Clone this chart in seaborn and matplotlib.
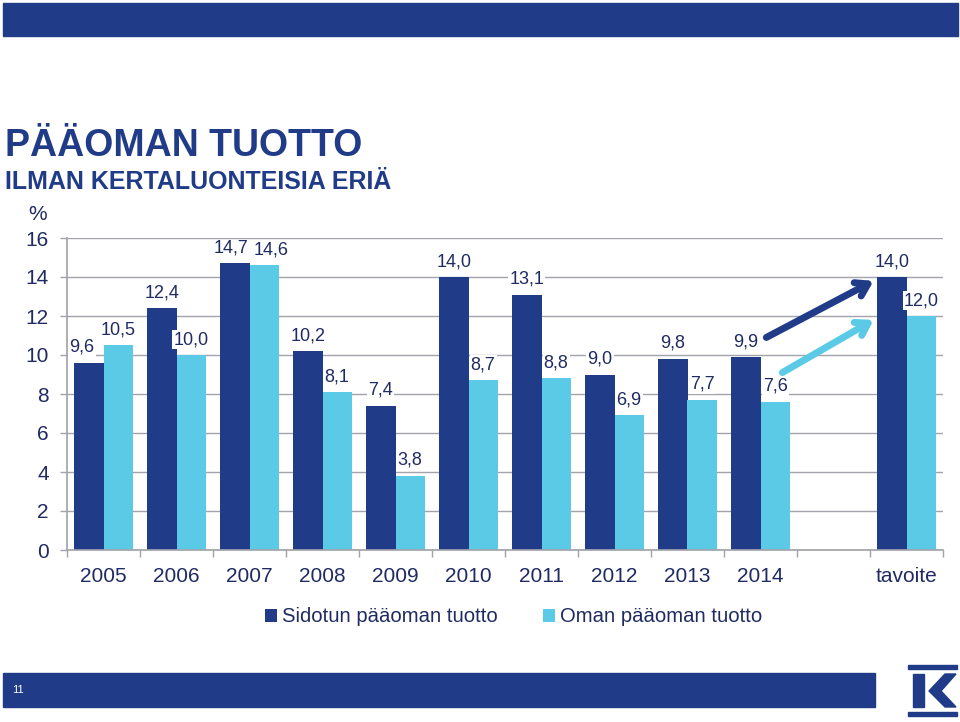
import matplotlib
matplotlib.use("Agg")
import matplotlib.pyplot as plt
import seaborn as sns
import pandas as pd
from matplotlib.patches import Rectangle, Polygon, Patch

years = ["2005", "2006", "2007", "2008", "2009", "2010", "2011", "2012", "2013", "2014", "tavoite"]
order = ["2005", "2006", "2007", "2008", "2009", "2010", "2011", "2012", "2013", "2014", " ", "tavoite"]
sidotun = [9.6, 12.4, 14.7, 10.2, 7.4, 14.0, 13.1, 9.0, 9.8, 9.9, 14.0]
oman = [10.5, 10.0, 14.6, 8.1, 3.8, 8.7, 8.8, 6.9, 7.7, 7.6, 12.0]
series_names = ["Sidotun pääoman tuotto", "Oman pääoman tuotto"]
yticks = [0, 2, 4, 6, 8, 10, 12, 14, 16]

DARK = "#203B88"
LIGHT = "#5BCAE6"
TEXT = "#1F2B62"
GRID = "#A3A3AC"

sns.set_theme(style="white")
plt.rcParams['font.family'] = ['Liberation Sans', 'DejaVu Sans']

df = pd.DataFrame({
    "year": years * 2,
    "value": sidotun + oman,
    "series": [series_names[0]] * len(years) + [series_names[1]] * len(years),
})

fig = plt.figure(figsize=(9.6, 7.22), dpi=100)
ax = fig.add_axes([67 / 960, 1 - 550 / 722, (943 - 67) / 960, (550 - 238) / 722])

sns.barplot(data=df, x="year", y="value", hue="series", order=order,
            hue_order=series_names, palette=[DARK, LIGHT], width=0.8,
            saturation=1, dodge=True, legend=False, ax=ax, edgecolor="none")

ax.set_ylim(0, 16)
ax.set_xlim(-0.5, len(order) - 0.5)
ax.set_yticks(yticks)
ax.set_yticklabels([str(t) for t in yticks], fontsize=15, color=TEXT)
ax.yaxis.grid(True, color=GRID, lw=1)
ax.set_axisbelow(True)
ax.set_xlabel("")
ax.set_ylabel("")
ax.tick_params(axis="y", length=5, color=GRID, width=1, pad=8, left=True)
ax.tick_params(axis="x", which="major", length=0, pad=12, labelsize=15, labelcolor=TEXT)
ax.set_xticks(range(len(order)))
ax.set_xticklabels(order)
ax.set_xticks([i - 0.5 for i in range(len(order) + 1)], minor=True)
ax.tick_params(axis="x", which="minor", length=5, color=GRID, width=1, bottom=True)
for s in ["top", "right"]:
    ax.spines[s].set_visible(False)
ax.spines["left"].set_color(GRID)
ax.spines["bottom"].set_color(GRID)

# data labels
xshift = {(0, 0): -5, (0, 2): -3, (1, 2): 5, (1, 0): 0}
for si, container in enumerate(ax.containers):
    labels = [f"{b.get_height():.1f}".replace(".", ",") if b.get_height() == b.get_height() and b.get_height() > 0 else "" for b in container]
    anns = ax.bar_label(container, labels=labels, padding=5, fontsize=13, color=TEXT,
                        bbox=dict(facecolor="white", edgecolor="none", pad=0.8))
    for ci, ann in enumerate(anns):
        if (si, ci) in xshift:
            dx, dy = ann.xyann
            ann.xyann = (dx + xshift[(si, ci)], dy)
            if ci == 2:
                ann.set_bbox(None)

# arrows
ax.annotate("", xy=(10.55, 13.8), xytext=(9.08, 10.9),
            arrowprops=dict(arrowstyle="->,head_length=0.7,head_width=0.45", lw=5, color=DARK,
                            shrinkA=0, shrinkB=0))
ax.annotate("", xy=(10.55, 11.8), xytext=(9.3, 9.1),
            arrowprops=dict(arrowstyle="->,head_length=0.7,head_width=0.45", lw=5, color=LIGHT,
                            shrinkA=0, shrinkB=0))

# percent sign
fig.text(38 / 960, 1 - 214 / 722, "%", fontsize=15, color=TEXT, ha="center", va="center")

# titles
fig.text(5 / 960, 1 - 146 / 722, "PÄÄOMAN TUOTTO", fontsize=27, fontweight="bold",
         color=DARK, ha="left", va="center")
fig.text(5 / 960, 1 - 182 / 722, "ILMAN KERTALUONTEISIA ERIÄ", fontsize=18, fontweight="bold",
         color=DARK, ha="left", va="center")

# banners
fig.patches.append(Rectangle((3 / 960, 1 - 36 / 722), 955 / 960, 33 / 722,
                             transform=fig.transFigure, color=DARK, zorder=0))
fig.patches.append(Rectangle((3 / 960, 1 - 707 / 722), 872 / 960, 34 / 722,
                             transform=fig.transFigure, color=DARK, zorder=0))
fig.text(12 / 960, 1 - 690 / 722, "11", fontsize=8, color="white", ha="left", va="center")

# K logo
def P(x, y):
    return (x / 960, 1 - y / 722)
fig.patches.append(Rectangle(P(908, 669), 49 / 960, 4 / 722, transform=fig.transFigure, color=DARK))
fig.patches.append(Rectangle(P(908, 716), 49 / 960, 4 / 722, transform=fig.transFigure, color=DARK))
fig.patches.append(Polygon([P(913, 674), P(924, 674), P(924, 707), P(913, 707)], closed=True,
                           transform=fig.transFigure, color=DARK))
fig.patches.append(Polygon([P(945, 674), P(956, 674), P(941, 691), P(956, 707), P(945, 707), P(929, 691)],
                           closed=True, transform=fig.transFigure, color=DARK))

# legend
handles = [Patch(facecolor=DARK, edgecolor="none"), Patch(facecolor=LIGHT, edgecolor="none")]
fig.legend(handles, series_names, loc="center", bbox_to_anchor=(0.535, 1 - 617 / 722), ncol=2,
           frameon=False, fontsize=14.6, handlelength=0.6, handleheight=0.6, handletextpad=0.25,
           columnspacing=2.2, labelcolor=TEXT)

fig.savefig("out.png", dpi=100)
